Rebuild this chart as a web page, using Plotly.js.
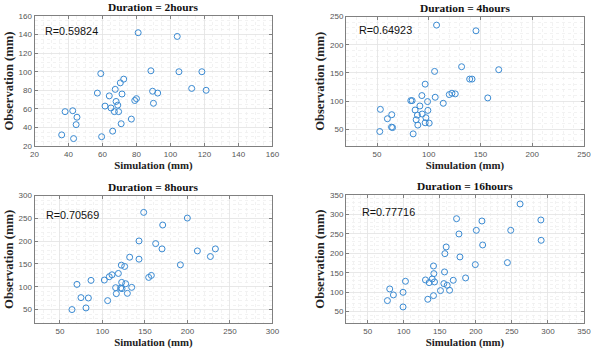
<!DOCTYPE html>
<html><head><meta charset="utf-8">
<script src="https://cdn.plot.ly/plotly-3.0.1.min.js"></script>
<style>html,body{margin:0;padding:0;background:#fff}#plot{width:600px;height:351px}</style>
</head><body><div id="plot"></div>
<script>
// Duration = 2hours
const sim2 = [36,38,42.5,43,44.5,45,57,59,59.5,61.5,64,65,66,67,67.5,68,69,69.5,70.5,71,71.5,72.5,77,79,80,81,88.5,89.5,90,92.5,104,105,112.5,118.5,121];
const obs2 = [32,57,58,28,43,51,77,98,30,63,74,61,36,57,81,68,64,57,88,44,76,92,49,69,71,142,101,79,66,77,138,100,82,100,80];
// Duration = 4hours
const sim4 = [52.6,53.2,60,64.2,64,65,82.6,83.9,84.9,86.8,87.8,89,89.4,91.4,93.3,93.6,96.5,96.5,97.2,98.8,99.1,100.4,105.6,106.2,107.5,114,119.8,122.4,125.6,131.7,139.5,141.8,145.6,157,167.6];
const obs4 = [45.8,85.2,68.5,75.7,53.6,52.8,100.7,100.7,41.6,84,66.7,75,57.2,91.2,109.7,76.9,130,61.3,70.3,99,83.4,60.7,152.7,106.7,235,96,111.5,113.9,112.7,161,139,139,224.9,105.5,155.7];
// Duration = 8hours
const sim8 = [64.1,70,74.7,80.6,83.4,86.5,102.2,106.1,108,111.2,115.5,116.3,118.7,122.2,121.4,123,122.6,126.1,127.3,129.3,132,134.4,143,143,148.5,154.4,157.5,162.6,170.1,170.9,191.7,199.9,211.7,227,232.9];
const obs8 = [50,105.2,76.2,53.6,75.4,114,114.7,69.6,122,126.3,98,84.9,129.2,147.4,97.2,96,109.6,144.5,106.7,85.6,164.8,98.7,200.4,160.5,263,120.5,124.9,194.6,183,235.3,148.1,250.6,178.6,166.3,183];
// Duration = 16hours
const sim16 = [77.4,80.6,85.7,99.1,99.1,102.4,130.2,133.4,135.3,139.5,141.3,141.8,142.7,141.3,151,155.7,156.6,157.1,158.9,160.3,163.6,168.7,173.3,176.6,178,185.8,199.3,200.7,208.5,209.5,243.8,248.4,261.4,290.2,290.6];
const obs16 = [78.3,108.3,92.9,99.7,62,128,131.4,81.7,124.6,134,167.4,147.7,126.3,91.1,104,122,152,199.1,216.3,117.7,104.9,130.6,289,249.7,190.6,136.6,170.9,259.1,283.1,221.4,176,259.1,326.9,285.7,233.4];

const titles = ['Duration = 2hours','Duration = 4hours','Duration = 8hours','Duration = 16hours'];
const rLabels = ['R=0.59824','R=0.64923','R=0.70569','R=0.77716'];
const axMax = [160,250,300,350];
const axMin = 20;
const dticks = [20,50,50,50];

const blue = '#3a8ad2';
const xs = [sim2,sim4,sim8,sim16], ys=[obs2,obs4,obs8,obs16];
const xDom = [[0.0575,0.454],[0.5767,0.9733],[0.0575,0.454],[0.5767,0.9733]];
const yDom = [[0.584,0.9544],[0.584,0.9525],[0.079,0.443],[0.079,0.4445]];
const rPos = [[0.036,0.887],[0.045,0.897],[0.041,0.847],[0.058,0.867]];

const traces=[]; const layout={width:600,height:351,margin:{l:0,r:0,t:0,b:0},showlegend:false,paper_bgcolor:'#fff',plot_bgcolor:'#fff',annotations:[]};
for(let i=0;i<4;i++){
  const s = i===0?'':String(i+1);
  traces.push({type:'scatter',mode:'markers',x:xs[i],y:ys[i],xaxis:'x'+s,yaxis:'y'+s,
    marker:{symbol:'circle-open',size:6,color:blue,line:{width:1,color:blue}},cliponaxis:false,hoverinfo:'none'});
  const minorStep = dticks[i]===20?5:10;
  const common = {range:[axMin,axMax[i]],tick0:0,dtick:dticks[i],showgrid:true,gridcolor:'#e2e2e2',gridwidth:0.8,
    zeroline:false,showline:true,linecolor:'#808080',linewidth:1,mirror:'ticks',ticks:'inside',ticklen:3,tickcolor:'#808080',
    tickfont:{family:'Liberation Sans, Arial',size:8,color:'#555'},
    minor:{dtick:minorStep,tick0:0,showgrid:true,gridcolor:'#efefef',griddash:'dot',gridwidth:0.8,ticks:''}};
  layout['xaxis'+s]=Object.assign({},common,{domain:xDom[i],anchor:'y'+s,
    title:{text:'<b>Simulation (mm)</b>',font:{family:'Liberation Serif, Times New Roman',size:10.8,color:'#222'},standoff:1}});
  layout['yaxis'+s]=Object.assign({},common,{domain:yDom[i],anchor:'x'+s,
    title:{text:'<b>Observation (mm)</b>',font:{family:'Liberation Serif, Times New Roman',size:12.6,color:'#222'},standoff:2}});
  layout.annotations.push({text:'<b>'+titles[i]+'</b>',xref:'paper',yref:'paper',
    x:(xDom[i][0]+xDom[i][1])/2,y:yDom[i][1],yshift:9,xanchor:'center',yanchor:'middle',showarrow:false,
    font:{family:'Liberation Serif, Times New Roman',size:11.4,color:'#111'}});
  layout.annotations.push({text:rLabels[i],xref:'x'+s+' domain',yref:'y'+s+' domain',x:rPos[i][0],y:rPos[i][1],
    xanchor:'left',yanchor:'middle',showarrow:false,font:{family:'Liberation Sans, Arial',size:10.8,color:'#111'}});
}
Plotly.newPlot('plot',traces,layout,{staticPlot:true});
</script></body></html>
